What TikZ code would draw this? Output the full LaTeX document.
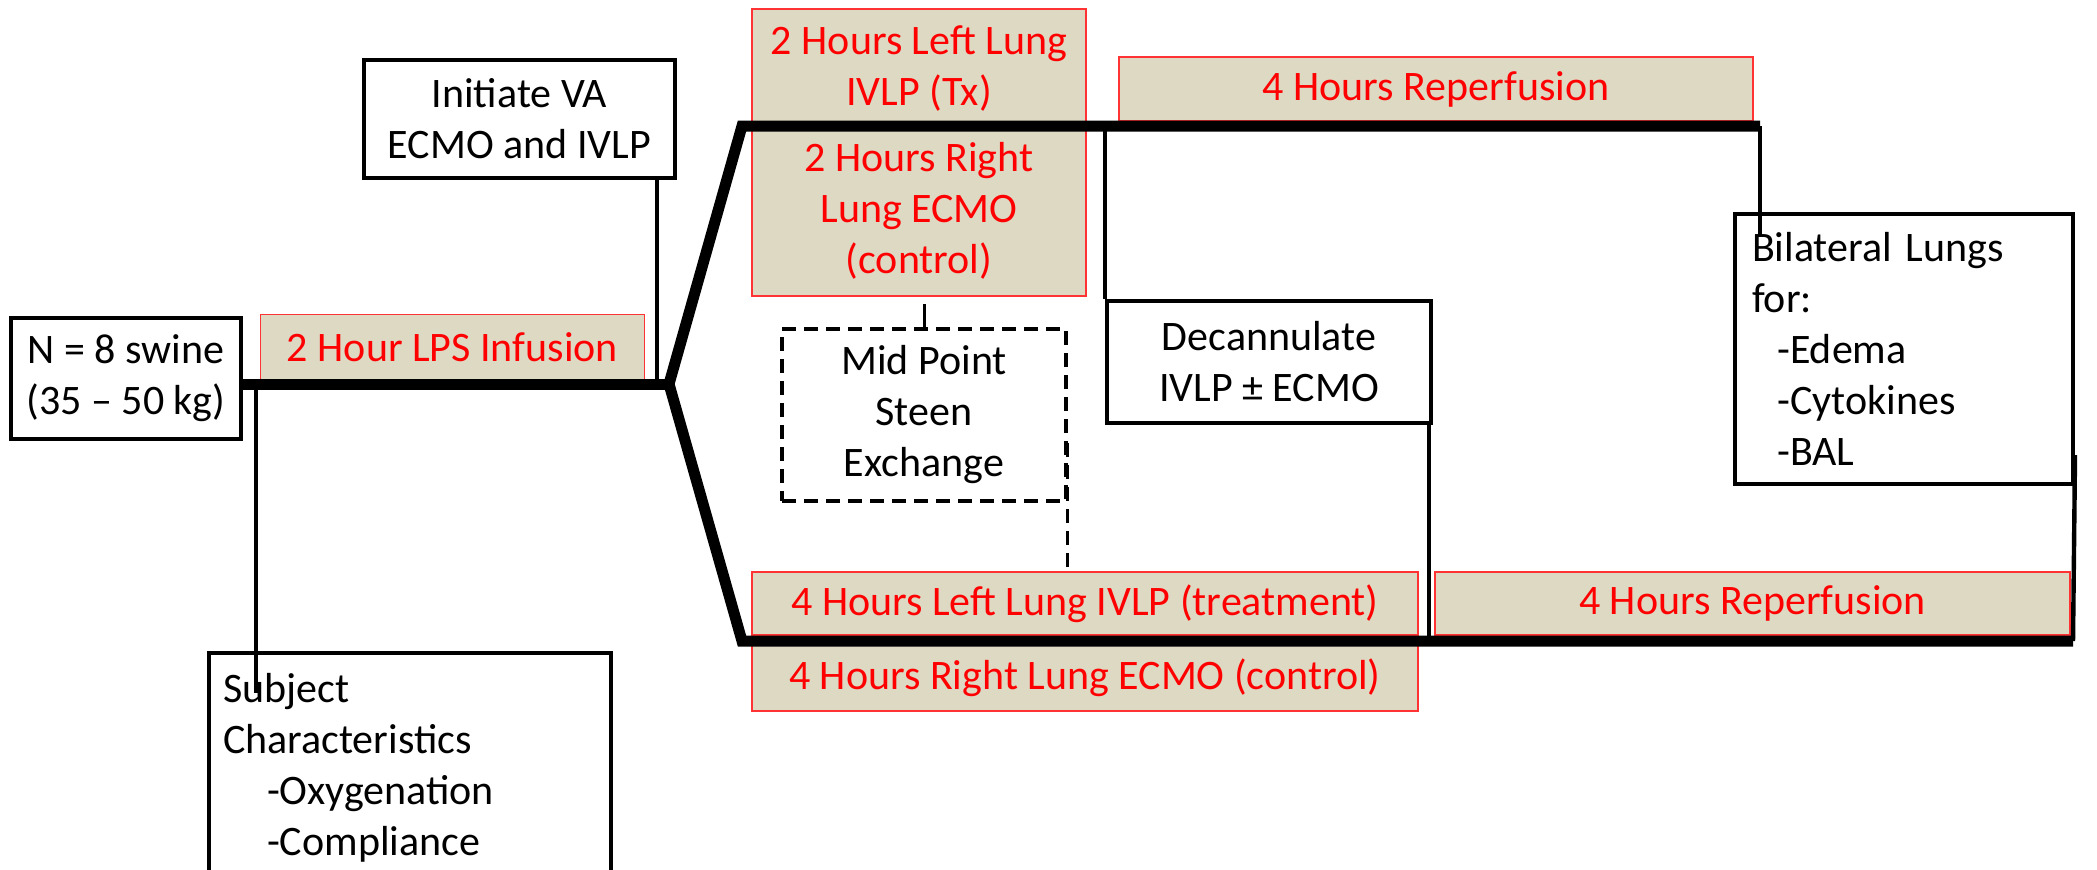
\documentclass[tikz,border=0pt]{standalone}
\usepackage{fontspec}
\setmainfont{Carlito}
\usetikzlibrary{positioning}
\definecolor{lungtan}{RGB}{221,217,195}
\definecolor{phasered}{RGB}{255,0,0}
\tikzset{
blackbox/.style={
	draw, line width=2pt, align=center, inner sep=0pt},
phase/.style={
	draw=phasered!80, line width=0.8pt, fill=lungtan, text=phasered,
	align=center, inner sep=0pt},
track/.style={line width=5.5pt, line join=miter},
link/.style={line width=2.2pt},
dashlink/.style={line width=1.6pt, dash pattern=on 7pt off 4pt}
}
\newcommand{\dashitem}[2][1.05em]{\hspace*{#1}-#2}

\begin{document}
\begin{tikzpicture}[x=0.5pt, y=-0.5pt, font=\fontsize{21}{25.5}\selectfont]
\useasboundingbox (0,0) rectangle (2097,869);

% junctions of the time line
\coordinate (split) at (669,384);
\coordinate (upL) at (742,126);
\coordinate (upR) at (1760,126);
\coordinate (loL) at (742,641);
\coordinate (loR) at (2073,641);

% shaded phases
\node[phase, minimum width=192pt, minimum height=33pt] (lps) at (452.5,347.5) {2 Hour LPS Infusion};
\node[phase, minimum width=167pt, minimum height=143.5pt] (tx) at (919,152.5)
	{2 Hours Left Lung\\IVLP (Tx)\\[7.5pt]2 Hours Right\\Lung ECMO\\(control)};
\node[phase, minimum width=317pt, minimum height=32pt] (reup) at (1436,89) {4 Hours Reperfusion};
\node[phase, minimum width=333pt, minimum height=31.5pt] (treat) at (1085,603.5) {4 Hours Left Lung IVLP (treatment)};
\node[phase, minimum width=333pt, minimum height=33pt] (ctrl) at (1085,678) {4 Hours Right Lung ECMO (control)};
\node[phase, minimum width=317.5pt, minimum height=31.5pt] (relo) at (1752.5,603.5) {4 Hours Reperfusion};

% black boxes
\node[blackbox, minimum width=115pt, minimum height=60.5pt] (swine) at (126,378.5)
	{N = 8 swine\\(35 -- 50 kg)};
\node[blackbox, minimum width=155.5pt, minimum height=59pt] (init) at (519.5,119)
	{Initiate VA\\ECMO and IVLP};
\node[blackbox, anchor=north west, align=left, text width=187pt, inner xsep=7pt, inner ysep=10pt] (subj) at (207,651)
	{Subject\\Characteristics\\\dashitem{Oxygenation}\\\dashitem{Compliance}};
\node[blackbox, dash pattern=on 7pt off 4pt, line width=1.6pt, minimum width=142pt, minimum height=86pt] (mid) at (924,415)
	{Mid Point\\Steen\\Exchange};
\node[blackbox, minimum width=162pt, minimum height=61pt] (decan) at (1269,362)
	{Decannulate\\IVLP ± ECMO};
\node[blackbox, align=left, text width=152pt, inner xsep=8.5pt, minimum height=135pt] (lungs) at (1904,349)
	{Bilateral Lungs\\for:\\\dashitem[0.6em]{Edema}\\\dashitem[0.6em]{Cytokines}\\\dashitem[0.6em]{BAL}};

% thick time line
\draw[track] (swine.east |- split) -- (split);
\draw[track] (upR) -- (upL) -- (split) -- (loL) -- (loR);

% thin links
\draw[link] ([xshift=-10pt]init.south east) -- ([xshift=-10pt]init.south east |- split);
\draw[link] ([xshift=6.5pt]swine.east |- split) -- ([xshift=6.5pt,yshift=-21pt]swine.east |- subj.north);
\draw[link] (decan.north west |- upL) -- (decan.north west);
\draw[link] ([xshift=-2pt]decan.south east) -- ([xshift=-2pt]decan.south east |- loL);
\draw[link] (upR) -- ([yshift=-12pt]upR |- lungs.north);
\draw[link] ([yshift=15.5pt]lungs.south east) -- (loR);
\draw[link, line width=1.5pt] (mid.north) -- ([yshift=-3.5pt]mid.north |- tx.south);
\draw[dashlink] ([yshift=-14pt]mid.east) -- (mid.east |- treat.north);
\end{tikzpicture}
\end{document}
